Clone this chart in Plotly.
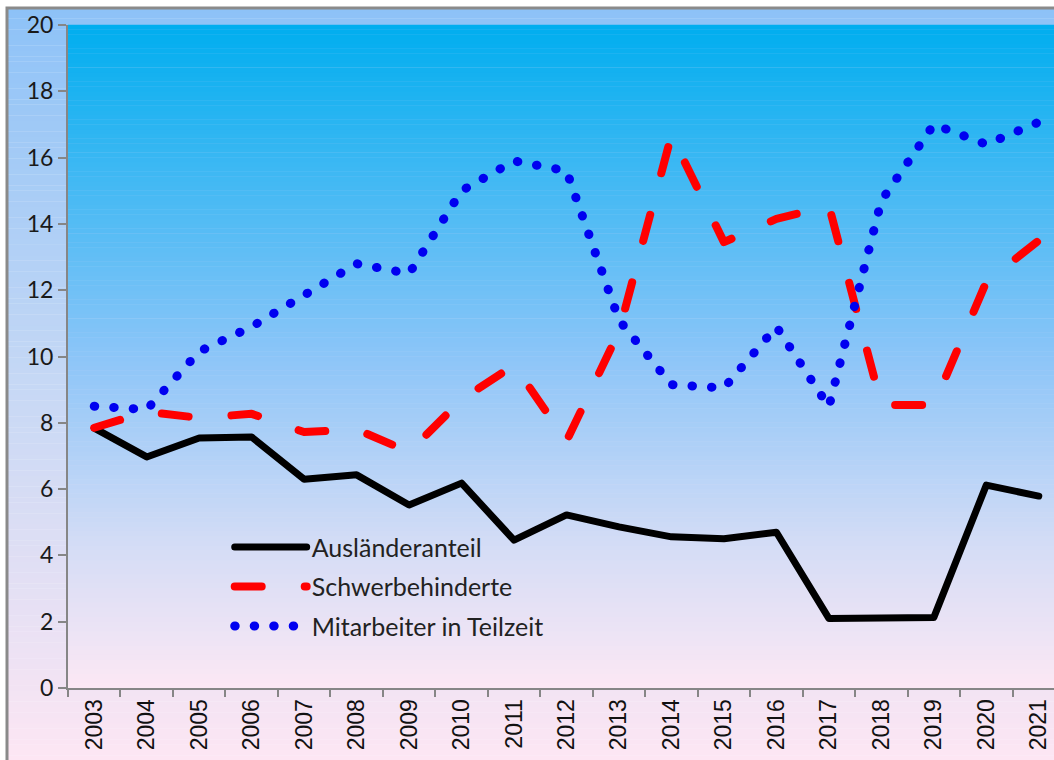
"""
Personalstruktur 2003-2021 — Liniendiagramm mit Verlaufshintergrund
"""
import plotly.graph_objects as go

YEARS = [str(y) for y in range(2003, 2022)]
AUSLAENDER = [7.84, 6.97, 7.54, 7.57, 6.30, 6.43, 5.52, 6.18, 4.46, 5.22,
              4.86, 4.56, 4.50, 4.70, 2.10, 2.13, 2.13, 6.12, 5.79]
SCHWERBEH = [7.85, 8.33, 8.15, 8.27, 7.72, 7.80, 7.12, 8.70, 9.74, 7.45,
             10.75, 16.68, 13.45, 14.15, 14.55, 8.54, 8.54, 12.25, 13.50]
TEILZEIT = [8.50, 8.40, 10.15, 10.90, 11.85, 12.80, 12.50, 15.00, 15.90, 15.60,
            11.10, 9.15, 9.05, 10.90, 8.48, 14.70, 17.00, 16.40, 17.07]

NAMES = ["Ausländeranteil", "Schwerbehinderte", "Mitarbeiter in Teilzeit"]
AXIS_GREY = "#868686"
FONT = "Lato, Noto Sans, sans-serif"


def hex_rgb(h):
    h = h.lstrip("#")
    return [int(h[i:i + 2], 16) for i in (0, 2, 4)]


def grad_color(stops, t):
    # stops: [(pos, hex)], pos aufsteigend 0..1 (0 = unten)
    for (p0, c0), (p1, c1) in zip(stops, stops[1:]):
        if p0 <= t <= p1:
            f = (t - p0) / (p1 - p0) if p1 > p0 else 0
            a, b = hex_rgb(c0), hex_rgb(c1)
            return "rgb(%d,%d,%d)" % tuple(round(a[i] + (b[i] - a[i]) * f) for i in range(3))
    return stops[-1][1]


def gradient_strips(x0, x1, y0, y1, stops, n=140):
    out = []
    h = (y1 - y0) / n
    for i in range(n):
        t = (i + 0.5) / n
        out.append(dict(type="rect", xref="paper", yref="paper",
                        x0=x0, x1=x1, y0=y0 + i * h, y1=y0 + (i + 1) * h + h * 0.05,
                        fillcolor=grad_color(stops, t), line_width=0, layer="below"))
    return out


# Rahmenposition in Pixeln -> paper
PLOT_W, PLOT_H = 986, 663
FRAME_X = -(68 - 7) / PLOT_W
FRAME_Y = 1 + (25 - 8) / PLOT_H

shapes = []
# Diagrammfläche außen
shapes += gradient_strips(FRAME_X, 1.02, -0.11, FRAME_Y,
                          [(0, "#FDE6F3"), (0.5, "#C6D8F5"), (1, "#8DC2F7")])
# Zeichenfläche
shapes += gradient_strips(0, 1, 0, 1,
                          [(0, "#FCE8F4"), (0.22, "#D3DCF6"), (0.5, "#8CC5F8"), (1, "#00AEEF")])
# Rahmen
shapes.append(dict(type="rect", xref="paper", yref="paper", x0=FRAME_X, x1=1.3,
                   y0=-0.3, y1=FRAME_Y, line=dict(color="#8A8A8A", width=3),
                   fillcolor="rgba(0,0,0,0)", layer="below"))

fig = go.Figure()
fig.add_trace(go.Scatter(x=YEARS, y=AUSLAENDER, name=NAMES[0], mode="lines",
                         legendgroup="a",
                         line=dict(color="#000000", width=7)))
fig.add_trace(go.Scatter(x=YEARS, y=SCHWERBEH, name=NAMES[1], mode="lines",
                         legendgroup="b",
                         line=dict(color="#FF0000", width=8, dash="27px,43px")))
fig.add_trace(go.Scatter(x=YEARS, y=TEILZEIT, name=NAMES[2], mode="lines",
                         legendgroup="c",
                         line=dict(color="#0000F0", width=9, dash="0.5px,19px")))

fig.update_layout(
    width=1054, height=760,
    margin=dict(l=68, r=0, t=25, b=72),
    paper_bgcolor="white",
    plot_bgcolor="rgba(0,0,0,0)",
    font=dict(family=FONT, color="#1a1a1a"),
    shapes=shapes,
    showlegend=True,
    legend=dict(x=0.164, y=0.247, xanchor="left", yanchor="top",
                bgcolor="rgba(0,0,0,0)", font=dict(size=25, family=FONT, color="#222"),
                tracegroupgap=4, itemwidth=72),
    xaxis=dict(
        type="category", range=[-0.5, 18.29],
        tickson="boundaries", ticks="outside", ticklen=7, tickwidth=2, tickcolor=AXIS_GREY,
        showline=True, linecolor=AXIS_GREY, linewidth=2,
        showgrid=False, zeroline=False, tickangle=-90,
        tickfont=dict(family="Liberation Sans, Arial, sans-serif", size=23, color="#111"),
    ),
    yaxis=dict(
        range=[0, 20], dtick=2, ticks="outside", ticklen=8, tickwidth=2, tickcolor=AXIS_GREY,
        showline=True, linecolor=AXIS_GREY, linewidth=2,
        showgrid=False, zeroline=False,
        tickfont=dict(family=FONT, size=23, color="#1a1a1a"),
    ),
)

# Seitenrand entfernen, runde Linienenden für Striche und Punkte
POST = """
document.body.style.margin = '0';
document.querySelectorAll('path.js-line').forEach(function(p){
  p.style.strokeLinecap = 'round';
  p.style.strokeLinejoin = 'round';
});
"""

fig.write_html("out.html", post_script=POST, config={"displayModeBar": False})
